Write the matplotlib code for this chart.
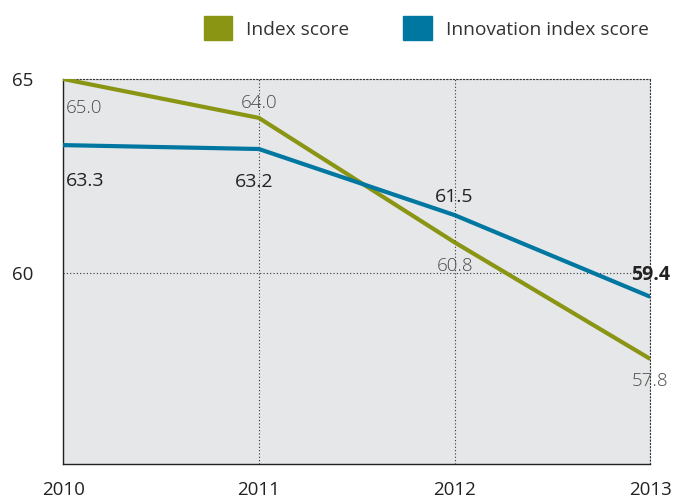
import matplotlib.pyplot as plt
from matplotlib.patches import Patch

years = [2010, 2011, 2012, 2013]
index_score = [65.0, 64.0, 60.8, 57.8]
innovation_score = [63.3, 63.2, 61.5, 59.4]
series_names = ["Index score", "Innovation index score"]
y_ticks = [60, 65]

olive = "#8a9514"
blue = "#0077a1"

plt.rcParams['font.family'] = ['Open Sans', 'DejaVu Sans']

fig = plt.figure(figsize=(6.86, 5), dpi=100)
ax = fig.add_axes([0.092, 0.072, 0.856, 0.770])
ax.set_facecolor("#e6e7e9")

ax.plot(years, index_score, color=olive, lw=3.0, solid_capstyle='butt', zorder=3)
ax.plot(years, innovation_score, color=blue, lw=3.0, solid_capstyle='butt', zorder=3)

ax.set_xlim(2010, 2013)
ax.set_ylim(55.1, 65)
ax.set_xticks(years)
ax.set_xticklabels([str(y) for y in years])
ax.set_yticks(y_ticks)
ax.tick_params(length=0, labelsize=13.5, colors="#222222")
ax.tick_params(axis='x', pad=12)
ax.tick_params(axis='y', pad=37)
for lbl in ax.get_yticklabels():
    lbl.set_horizontalalignment('left')

ax.grid(True, color="#333333", linestyle=(0, (1, 2)), linewidth=0.8)
for s in ['top', 'right']:
    ax.spines[s].set_linestyle((0, (1, 2)))
    ax.spines[s].set_linewidth(0.8)
    ax.spines[s].set_color("#333333")
for s in ['left', 'bottom']:
    ax.spines[s].set_color("#222222")
    ax.spines[s].set_linewidth(1.0)

# index score labels (light grey)
idx_offsets = [(2, -21, 'left'), (0, 11, 'center'), (0, -17, 'center'), (0, -16, 'center')]
for x, v, (dx, dy, ha) in zip(years, index_score, idx_offsets):
    ax.annotate(f"{v:.1f}", (x, v), xytext=(dx, dy), textcoords='offset points',
                ha=ha, va='center', fontsize=13.5, color="#4d4d4d", fontweight='light')

# innovation labels (dark)
inn_offsets = [(2, -26, 'left'), (-3, -24, 'center'), (0, 13, 'center'), (0, 16, 'center')]
for i, (x, v, (dx, dy, ha)) in enumerate(zip(years, innovation_score, inn_offsets)):
    ax.annotate(f"{v:.1f}", (x, v), xytext=(dx, dy), textcoords='offset points',
                ha=ha, va='center', fontsize=14, color="#222222",
                fontweight='bold' if i == 3 else 'normal')

handles = [Patch(color=olive), Patch(color=blue)]
fig.legend(handles, series_names, loc='upper left', bbox_to_anchor=(0.28, 0.99),
           ncol=2, frameon=False, fontsize=13.8, handlelength=1.5, handleheight=1.5,
           handletextpad=0.7, columnspacing=2.85, labelcolor="#333333",
           borderaxespad=0.2)

fig.savefig("out.png", dpi=100)
